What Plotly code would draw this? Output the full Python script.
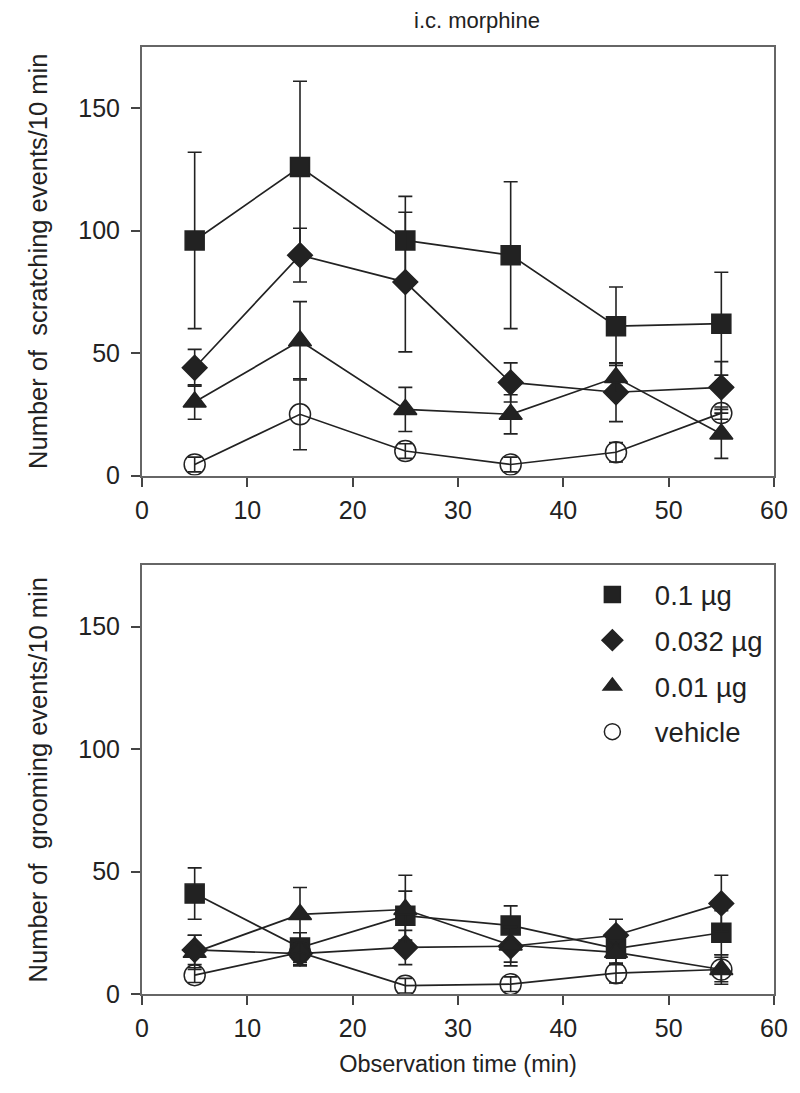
import plotly.graph_objects as go
from plotly.subplots import make_subplots

# ---- data ----
time_min = [5, 15, 25, 35, 45, 55]
x_ticks = [0, 10, 20, 30, 40, 50, 60]
y_ticks = [0, 50, 100, 150]

series_names = ["0.1 µg", "0.032 µg", "0.01 µg", "vehicle"]

# scratching (top panel)
scr_01 = [96, 126, 96, 90, 61, 62]
scr_01_err = [36, 35, 18, 30, 16, 21]
scr_0032 = [44, 90, 79, 38, 34, 36]
scr_0032_err = [7.5, 11, 28.5, 8, 12, 10.5]
scr_001 = [30, 55, 27, 25, 40, 17]
scr_001_err = [7, 16, 9, 8, 6, 10]
scr_veh = [4.5, 25, 10, 4.5, 9.5, 25.5]
scr_veh_err = [3, 14.5, 3, 3, 4, 2.5]

# grooming (bottom panel)
grm_01 = [41, 19, 32, 28, 18.5, 25]
grm_01_err = [10.5, 6, 10, 8, 6, 9]
grm_0032 = [18, 16.5, 19, 19.5, 24, 37]
grm_0032_err = [6, 5, 7, 8, 6.5, 11.5]
grm_001 = [17, 32.5, 34.5, 20, 17, 10]
grm_001_err = [7, 11, 14, 7, 5, 6]
grm_veh = [7.7, 17, 3.4, 4, 8.5, 10]
grm_veh_err = [3, 5, 3, 3, 4, 5]

# ---- styling ----
INK = "#222222"
AX = "#666666"
FONT = "Liberation Sans, Arial, Helvetica, sans-serif"
symbols = ["square", "diamond", "triangle-up", "circle"]
sizes = [19, 19, 20, 21]
fills = [INK, INK, INK, "rgba(0,0,0,0)"]

fig = make_subplots(rows=2, cols=1, vertical_spacing=0.095)

panels = [
    (1, [(scr_01, scr_01_err), (scr_0032, scr_0032_err), (scr_001, scr_001_err), (scr_veh, scr_veh_err)]),
    (2, [(grm_01, grm_01_err), (grm_0032, grm_0032_err), (grm_001, grm_001_err), (grm_veh, grm_veh_err)]),
]

for row, sets in panels:
    for i, (vals, errs) in enumerate(sets):
        fig.add_trace(go.Scatter(
            x=time_min, y=vals, mode="lines+markers",
            line=dict(color=INK, width=1.7),
            marker=dict(symbol=symbols[i], size=sizes[i], color=fills[i],
                        line=dict(color=INK, width=1.5)),
            error_y=dict(type="data", array=errs, visible=True,
                         color=INK, thickness=1.6, width=7),
            showlegend=False, name=series_names[i]), row=row, col=1)

# legend entries (markers only)
for i, nm in enumerate(series_names):
    fig.add_trace(go.Scatter(
        x=[None], y=[None], mode="markers", name=nm, legendgroup=nm,
        marker=dict(symbol=symbols[i], size=sizes[i], color=fills[i],
                    line=dict(color=INK, width=1.5)),
        showlegend=True), row=2, col=1)

for r in (1, 2):
    fig.update_xaxes(range=[0, 60], tickvals=x_ticks, showline=True, mirror=True,
                     linecolor=AX, linewidth=2, ticks="outside", ticklen=9,
                     tickwidth=1.5, tickcolor="#444", showgrid=False, zeroline=False,
                     ticklabelstandoff=2, tickfont=dict(size=25), row=r, col=1)
    fig.update_yaxes(range=[0, 175], tickvals=y_ticks, showline=True, mirror=True,
                     linecolor=AX, linewidth=2, ticks="outside", ticklen=9,
                     tickwidth=1.5, tickcolor="#444", showgrid=False, zeroline=False,
                     ticklabelstandoff=6, tickfont=dict(size=25), row=r, col=1)

fig.update_yaxes(title=dict(text="Number of\u00a0\u00a0scratching events/10 min", standoff=23,
                            font=dict(size=25.5)), row=1, col=1)
fig.update_yaxes(title=dict(text="Number of\u00a0\u00a0grooming events/10 min", standoff=23,
                            font=dict(size=25.5)), row=2, col=1)
fig.update_xaxes(title=dict(text="Observation time (min)", standoff=15,
                            font=dict(size=23.5)), row=2, col=1)

fig.add_annotation(text="i.c. morphine", x=0.53, xref="paper", y=1.0285, yref="paper",
                   xanchor="center", yanchor="middle", showarrow=False,
                   font=dict(size=22, color=INK, family=FONT))

# page body has an 8px margin: shrink the figure so the plot box lands where the reference has it
fig.update_layout(
    width=792, height=1085,
    margin=dict(l=134, r=24, t=39, b=99),
    paper_bgcolor="white", plot_bgcolor="white",
    font=dict(family=FONT, size=23, color=INK),
    legend=dict(x=0.677, y=0.4477, xanchor="left", yanchor="top",
                bgcolor="rgba(0,0,0,0)", font=dict(size=27.5, color=INK),
                tracegroupgap=7, itemwidth=75),
)

fig.write_html("out.html")
